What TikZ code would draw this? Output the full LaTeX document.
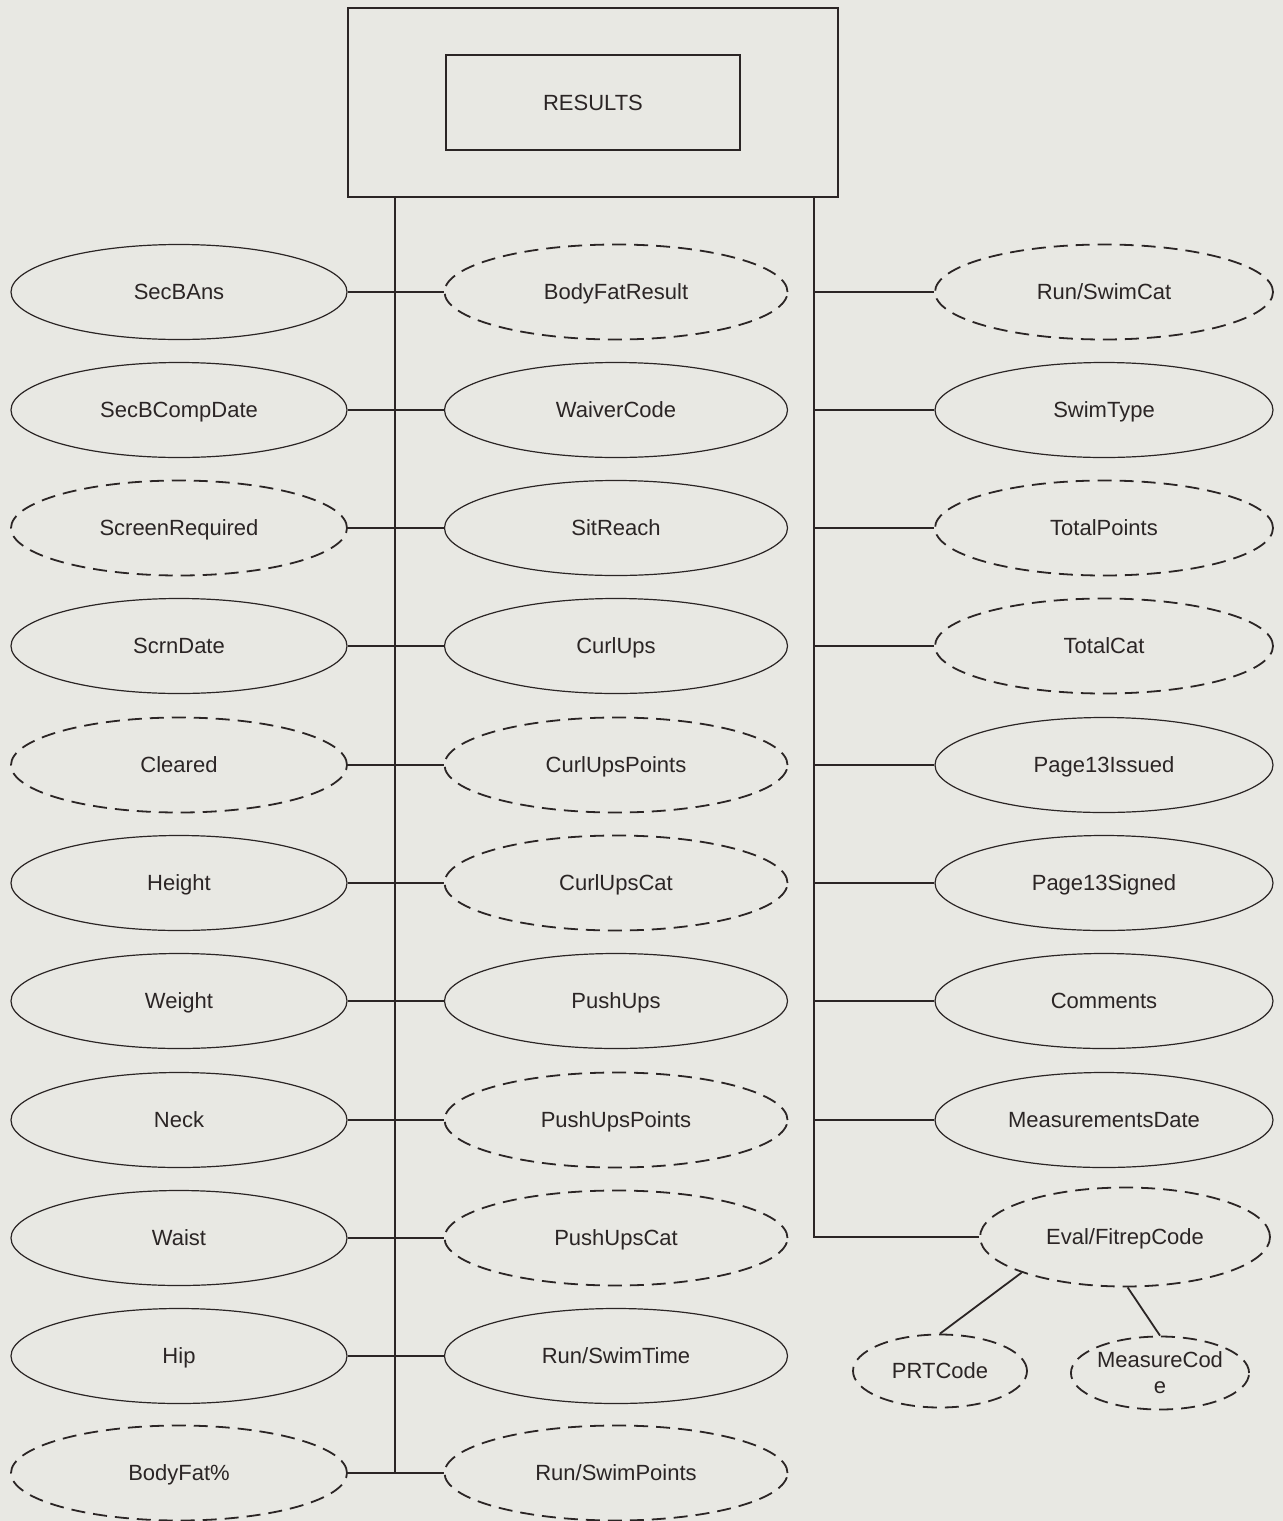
\documentclass[tikz,border=0pt]{standalone}
\usepackage{fontspec}
\setmainfont{Liberation Sans}
\usepackage{tikz}
\usetikzlibrary{positioning,shapes.geometric}
\definecolor{paper}{HTML}{E8E8E3}
\definecolor{ink}{HTML}{2B2525}
\tikzset{
  % ---- entity and attributes ------------------------------------------
  entbox/.style={
    draw=ink, line width=0.7pt, rectangle, inner sep=0pt,
    font=\fontsize{11}{13}\selectfont, text=ink},
  attr/.style={
    draw=ink, line width=0.6pt, ellipse, inner sep=0pt, align=center,
    minimum height=47.5pt, text height=7.8pt, text depth=0pt,
    font=\fontsize{11}{13}\selectfont, text=ink},
  lattr/.style={attr, minimum width=168pt},
  mattr/.style={attr, minimum width=171.5pt},
  rattr/.style={attr, minimum width=169pt},
  derived/.style={line width=0.9pt, dash pattern=on 7pt off 4pt},
  % ---- connections ----------------------------------------------------
  link/.style={draw=ink, line width=0.9pt},
}
\begin{document}
\begin{tikzpicture}[x=0.5pt, y=-0.5pt]

\fill[paper] (0,0) rectangle (1283,1521);
\useasboundingbox (0,0) rectangle (1283,1521);

% ---- entity ------------------------------------------------------------
\node[entbox, minimum width=245pt, minimum height=94.5pt] (box) at (593,102.5) {};
\node[entbox, minimum width=147pt, minimum height=47.5pt] (results) at (593,102.5) {RESULTS};

% ---- left column ------------------------------------------------------
\node[lattr] (secbans)  at (179,292)  {SecBAns};
\node[lattr] (secbdate) at (179,410)  {SecBCompDate};
\node[lattr, derived] (scrreq) at (179,528) {ScreenRequired};
\node[lattr] (scrndate) at (179,646)  {ScrnDate};
\node[lattr, derived] (cleared) at (179,765) {Cleared};
\node[lattr] (height)   at (179,883)  {Height};
\node[lattr] (weight)   at (179,1001) {Weight};
\node[lattr] (neck)     at (179,1120) {Neck};
\node[lattr] (waist)    at (179,1238) {Waist};
\node[lattr] (hip)      at (179,1356) {Hip};
\node[lattr, derived] (bodyfat) at (179,1473) {BodyFat\%};

% ---- middle column ----------------------------------------------------
\node[mattr, derived] (bfresult) at (616,292) {BodyFatResult};
\node[mattr] (waiver)   at (616,410)  {WaiverCode};
\node[mattr] (sitreach) at (616,528)  {SitReach};
\node[mattr] (curlups)  at (616,646)  {CurlUps};
\node[mattr, derived] (curlpts) at (616,765)  {CurlUpsPoints};
\node[mattr, derived] (curlcat) at (616,883)  {CurlUpsCat};
\node[mattr] (pushups)  at (616,1001) {PushUps};
\node[mattr, derived] (pushpts) at (616,1120) {PushUpsPoints};
\node[mattr, derived] (pushcat) at (616,1238) {PushUpsCat};
\node[mattr] (runtime)  at (616,1356) {Run/SwimTime};
\node[mattr, derived] (runpts)  at (616,1473) {Run/SwimPoints};

% ---- right column -----------------------------------------------------
\node[rattr, derived] (runcat) at (1104,292) {Run/SwimCat};
\node[rattr] (swimtype) at (1104,410) {SwimType};
\node[rattr, derived] (totpts) at (1104,528) {TotalPoints};
\node[rattr, derived] (totcat) at (1104,646) {TotalCat};
\node[rattr] (pgissued) at (1104,765)  {Page13Issued};
\node[rattr] (pgsigned) at (1104,883)  {Page13Signed};
\node[rattr] (comments) at (1104,1001) {Comments};
\node[rattr] (measdate) at (1104,1120) {MeasurementsDate};
\node[attr, derived, minimum width=145pt, minimum height=49.5pt] (evalcode)
  at (1125,1237) {Eval/FitrepCode};
\node[attr, derived, minimum width=87pt, minimum height=36.5pt] (prtcode)
  at (940,1371) {PRTCode};
\node[attr, derived, minimum width=87pt, minimum height=36.5pt,
  text height=, text depth=] (meascode)
  at (1160,1373) {MeasureCod\\e};

% ---- buses ------------------------------------------------------------
\coordinate (lbus) at ([xshift=24pt]box.south west);
\coordinate (rbus) at ([xshift=-12.5pt]box.south east);

\draw[link] (lbus) -- (lbus |- bodyfat.east);
\draw[link] (rbus) -- (rbus |- evalcode.west) -- (evalcode.west);

% ---- left to middle ---------------------------------------------------
\draw[link] (secbans.east)  -- (bfresult.west);
\draw[link] (secbdate.east) -- (waiver.west);
\draw[link] (scrreq.east)   -- (sitreach.west);
\draw[link] (scrndate.east) -- (curlups.west);
\draw[link] (cleared.east)  -- (curlpts.west);
\draw[link] (height.east)   -- (curlcat.west);
\draw[link] (weight.east)   -- (pushups.west);
\draw[link] (neck.east)     -- (pushpts.west);
\draw[link] (waist.east)    -- (pushcat.west);
\draw[link] (hip.east)      -- (runtime.west);
\draw[link] (bodyfat.east)  -- (runpts.west);

% ---- right bus --------------------------------------------------------
\draw[link] (rbus |- runcat.west)   -- (runcat.west);
\draw[link] (rbus |- swimtype.west) -- (swimtype.west);
\draw[link] (rbus |- totpts.west)   -- (totpts.west);
\draw[link] (rbus |- totcat.west)   -- (totcat.west);
\draw[link] (rbus |- pgissued.west) -- (pgissued.west);
\draw[link] (rbus |- pgsigned.west) -- (pgsigned.west);
\draw[link] (rbus |- comments.west) -- (comments.west);
\draw[link] (rbus |- measdate.west) -- (measdate.west);

% ---- sub-attributes ---------------------------------------------------
\draw[link] (evalcode.-161) -- (prtcode.north);
\draw[link] (evalcode.-87)  -- (meascode.north);

\end{tikzpicture}
\end{document}
